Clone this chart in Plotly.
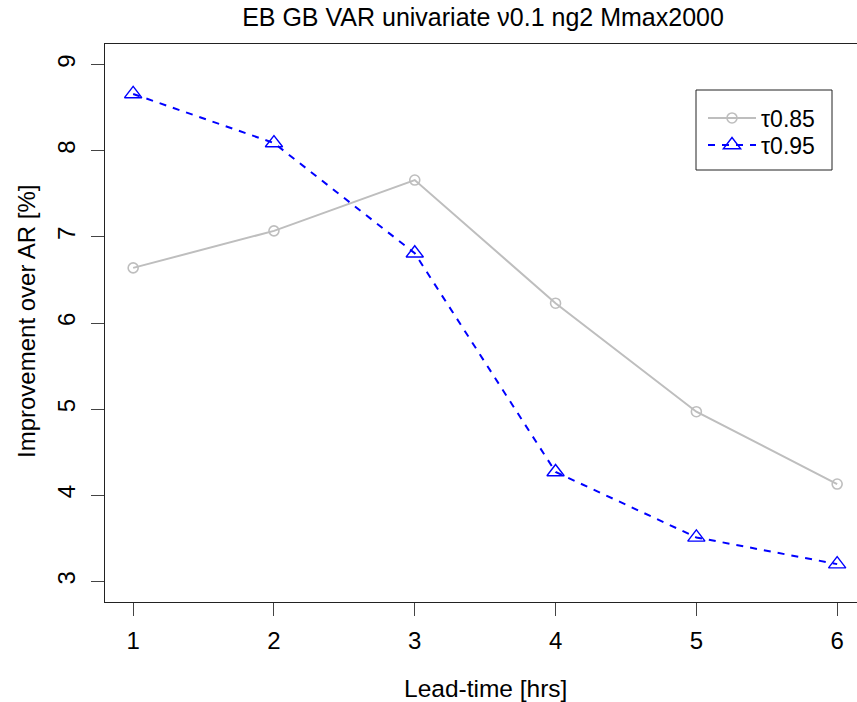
import plotly.graph_objects as go

lead_time = [1, 2, 3, 4, 5, 6]
tau085 = [6.64, 7.07, 7.66, 6.23, 4.97, 4.13]
tau095 = [8.66, 8.09, 6.81, 4.27, 3.51, 3.20]
y_ticks = [3, 4, 5, 6, 7, 8, 9]
x_ticks = [1, 2, 3, 4, 5, 6]

FONT = "Liberation Sans, Arial, sans-serif"
FS = 24

W, H = 857, 702
L, T, B = 105, 44, 100
PW, PH = W - L, H - T - B
px_per_x = 140.8
x0 = 0.8
x1 = x0 + PW / px_per_x


def px_x(p):
    return (p - L) / PW


def px_y(p):
    return 1 - (p - T) / PH


fig = go.Figure()
fig.add_trace(go.Scatter(
    x=lead_time, y=tau085, mode="lines+markers", name="τ0.85", legend="legend",
    line=dict(color="#BEBEBE", width=2),
    marker=dict(symbol="circle-open", size=10, color="#BEBEBE", line=dict(width=1.6)),
))
fig.add_trace(go.Scatter(
    x=lead_time, y=tau095, mode="lines+markers", name="τ0.95", legend="legend2",
    line=dict(color="#0000FF", width=2, dash="7px,7px"),
    marker=dict(symbol="triangle-up-open", size=15, color="#0000FF", line=dict(width=1.4)),
))

leg_common = dict(xanchor="left", yanchor="middle", bgcolor="rgba(0,0,0,0)",
                  borderwidth=0, font=dict(size=23, family=FONT, color="black"),
                  itemwidth=48)

fig.update_layout(
    width=W, height=H,
    margin=dict(l=L, r=0, t=T, b=B, pad=0),
    paper_bgcolor="white", plot_bgcolor="white",
    font=dict(family=FONT, size=FS, color="black"),
    title=dict(text="EB GB VAR univariate ν0.1 ng2 Mmax2000",
               xref="container", yref="container",
               x=483 / W, y=1 - 17 / H, xanchor="center", yanchor="middle",
               font=dict(size=25, family=FONT, color="black")),
    showlegend=True,
    legend=dict(x=px_x(703), y=px_y(118), **leg_common),
    legend2=dict(x=px_x(703), y=px_y(145), **leg_common),
    shapes=[dict(type="rect", xref="paper", yref="paper",
                 x0=px_x(696), x1=px_x(832), y0=px_y(170), y1=px_y(90),
                 line=dict(color="#222222", width=1), fillcolor="rgba(0,0,0,0)",
                 layer="above")],
    xaxis=dict(range=[x0, x1], tickvals=x_ticks, ticktext=[str(v) for v in x_ticks],
               showgrid=False, zeroline=False, showline=True, linecolor="#222222",
               linewidth=1, mirror=True, ticks="outside", ticklen=13, tickcolor="#444444",
               tickwidth=1, ticklabelstandoff=4, tickfont=dict(size=FS)),
    yaxis=dict(range=[2.76, 9.24], tickvals=y_ticks, ticktext=[str(v) for v in y_ticks],
               showgrid=False, zeroline=False, showline=True, linecolor="#222222",
               linewidth=1, mirror=False, ticks="outside", ticklen=13, tickcolor="#444444",
               tickwidth=1, tickangle=-90, ticklabelstandoff=6, tickfont=dict(size=FS)),
    annotations=[
        dict(text="Lead-time [hrs]", xref="paper", yref="paper",
             x=px_x(485), y=px_y(688),
             xanchor="center", yanchor="middle", showarrow=False,
             font=dict(size=24.5, family=FONT, color="black")),
        dict(text="Improvement over AR [%]", xref="paper", yref="paper",
             x=px_x(27), y=px_y(322), textangle=-90,
             xanchor="center", yanchor="middle", showarrow=False,
             font=dict(size=24, family=FONT, color="black")),
    ],
)

fig.write_html("out.html")
